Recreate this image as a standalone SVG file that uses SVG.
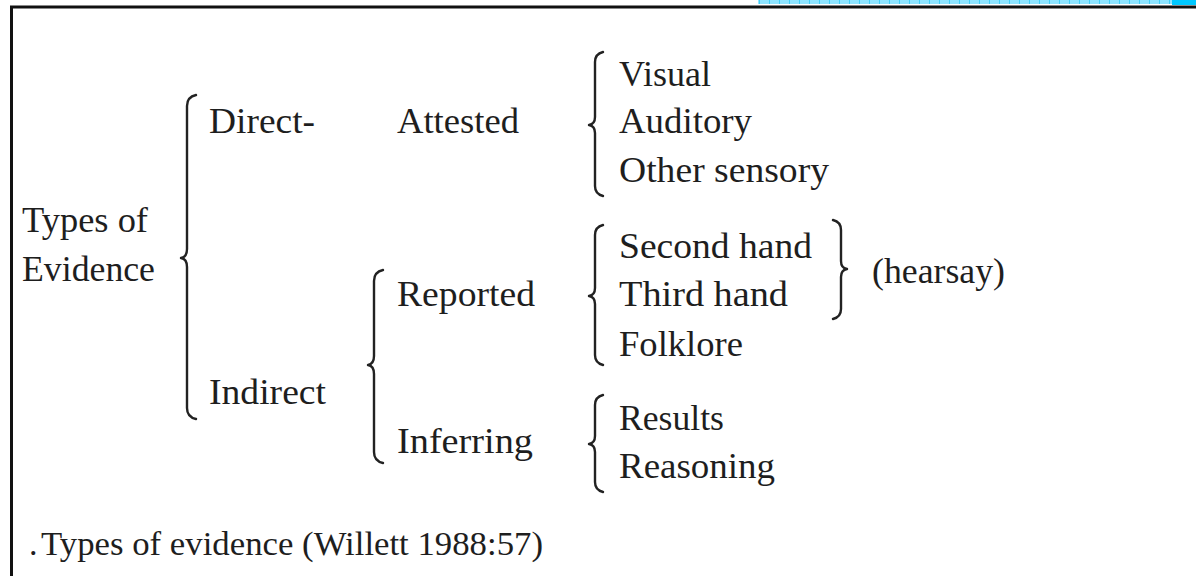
<svg xmlns="http://www.w3.org/2000/svg" width="1196" height="576" viewBox="0 0 1196 576">
<defs>
<style>
.t{font-family:"Liberation Serif","Times New Roman",serif;font-size:36px;fill:#1e1e1e}
.cap{font-size:34px}
.br{fill:none;stroke:#222;stroke-width:2.4;stroke-linecap:round;stroke-linejoin:round}
</style>
<pattern id="chk" width="10" height="5" patternUnits="userSpaceOnUse">
<rect width="10" height="5" fill="#8ee4ff"/>
<rect x="9" width="1" height="5" fill="#40cdf5"/>
</pattern>
</defs>
<rect width="1196" height="576" fill="#fff"/>
<g id="frame">
<rect x="758" y="0" width="438" height="4" fill="url(#chk)"/>
<rect x="1172" y="0" width="24" height="5" fill="#00c8ff"/>
<line x1="10" y1="7" x2="1196" y2="7" stroke="#111" stroke-width="3"/>
<line x1="11.5" y1="6" x2="11.5" y2="576" stroke="#111" stroke-width="3"/>
</g>
<g id="connectors">
<path class="br" d="M196,95 Q187,97 187,106 L187,249 Q187,257 181,258 Q187,259 187,267 L187,408 Q187,417 196,419"/>
<path class="br" d="M383,270 Q374,272 374,281 L374,356 Q374,364 368,365 Q374,366 374,374 L374,452 Q374,461 383,463"/>
<path class="br" d="M603,52 Q595,54 595,62 L595,117 Q595,124 589,125 Q595,126 595,133 L595,186 Q595,194 603,196"/>
<path class="br" d="M603,225 Q595,227 595,235 L595,288 Q595,295 589,296 Q595,297 595,304 L595,355 Q595,363 603,365"/>
<path class="br" d="M603,395 Q595,397 595,405 L595,436 Q595,443 589,444 Q595,445 595,452 L595,482 Q595,490 603,492"/>
<path class="br" d="M833,220 Q841,222 841,230 L841,261 Q841,268 847,269 Q841,270 841,277 L841,309 Q841,317 833,319"/>
</g>
<g id="root"><text class="t" x="22" y="232" textLength="126" lengthAdjust="spacingAndGlyphs">Types of</text><text class="t" x="22" y="281" textLength="133" lengthAdjust="spacingAndGlyphs">Evidence</text></g>
<g id="direct"><text class="t" x="209" y="133" textLength="106" lengthAdjust="spacingAndGlyphs">Direct-</text></g>
<g id="indirect"><text class="t" x="209" y="404" textLength="117" lengthAdjust="spacingAndGlyphs">Indirect</text></g>
<g id="attested"><text class="t" x="397" y="133" textLength="122" lengthAdjust="spacingAndGlyphs">Attested</text></g>
<g id="reported"><text class="t" x="397" y="306" textLength="138" lengthAdjust="spacingAndGlyphs">Reported</text></g>
<g id="inferring"><text class="t" x="397" y="453" textLength="136" lengthAdjust="spacingAndGlyphs">Inferring</text></g>
<g id="visual"><text class="t" x="619" y="86" textLength="92" lengthAdjust="spacingAndGlyphs">Visual</text></g>
<g id="auditory"><text class="t" x="619" y="133" textLength="133" lengthAdjust="spacingAndGlyphs">Auditory</text></g>
<g id="other"><text class="t" x="619" y="182" textLength="210" lengthAdjust="spacingAndGlyphs">Other sensory</text></g>
<g id="second"><text class="t" x="619" y="258" textLength="193" lengthAdjust="spacingAndGlyphs">Second hand</text></g>
<g id="third"><text class="t" x="619" y="306" textLength="169" lengthAdjust="spacingAndGlyphs">Third hand</text></g>
<g id="folklore"><text class="t" x="619" y="356" textLength="124" lengthAdjust="spacingAndGlyphs">Folklore</text></g>
<g id="results"><text class="t" x="619" y="430" textLength="105" lengthAdjust="spacingAndGlyphs">Results</text></g>
<g id="reasoning"><text class="t" x="619" y="478" textLength="156" lengthAdjust="spacingAndGlyphs">Reasoning</text></g>
<g id="hearsay"><text class="t" x="872" y="283" textLength="133" lengthAdjust="spacingAndGlyphs">(hearsay)</text></g>
<g id="caption"><text class="t cap" x="29" y="555">.</text><text class="t cap" x="41" y="555" textLength="502" lengthAdjust="spacingAndGlyphs">Types of evidence (Willett 1988:57)</text></g>
</svg>
